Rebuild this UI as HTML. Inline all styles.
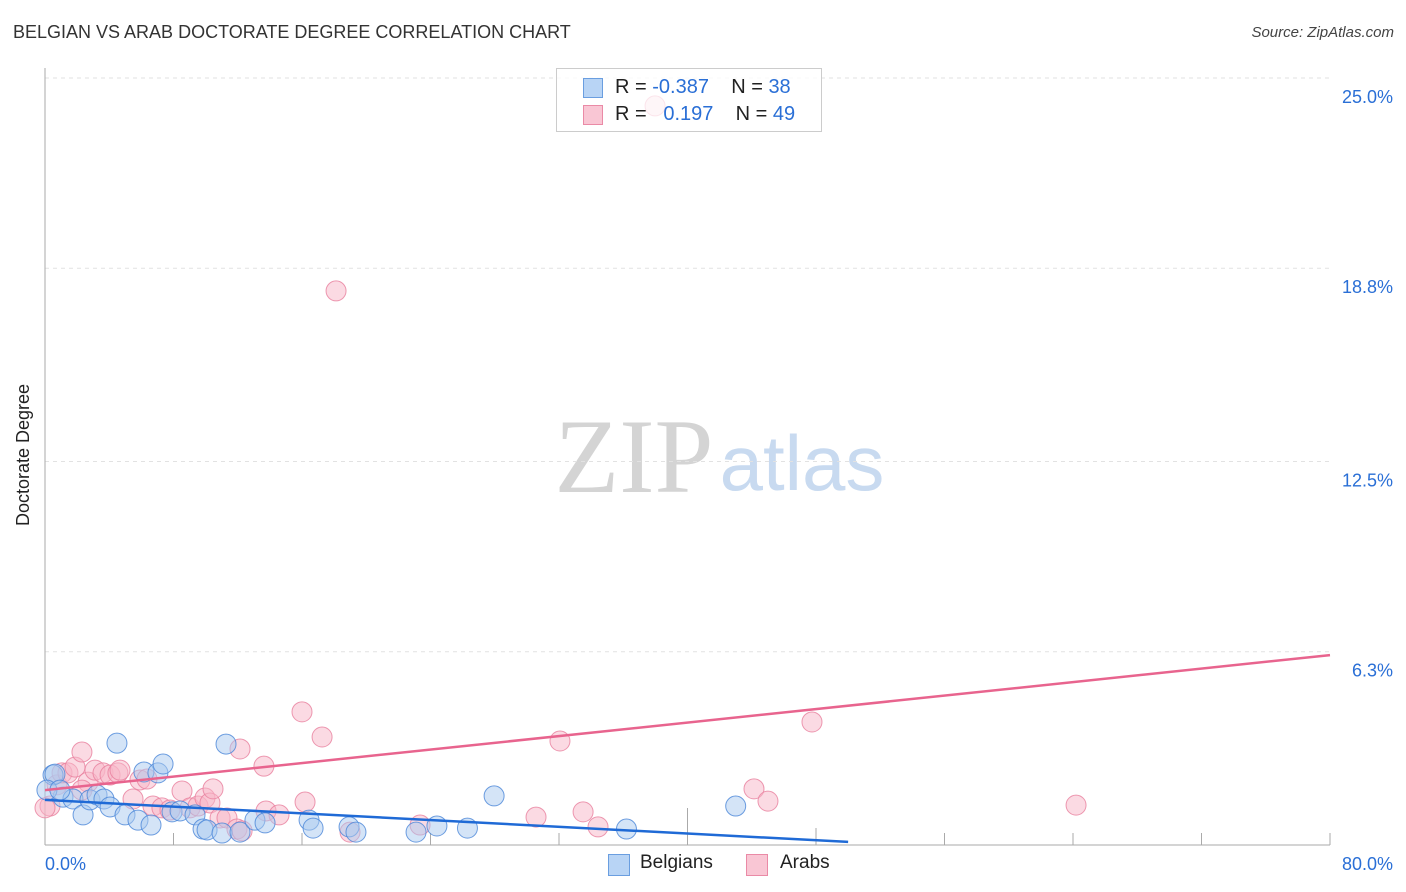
<!DOCTYPE html>
<html><head><meta charset="utf-8">
<style>
body{margin:0;background:#fff;font-family:"Liberation Sans",sans-serif;}
#wrap{position:relative;width:1406px;height:892px;overflow:hidden;}
.t{position:absolute;white-space:nowrap;}
</style></head>
<body>
<div id="wrap">
<div class="t" style="left:13px;top:22px;font-size:18px;color:#333;">BELGIAN VS ARAB DOCTORATE DEGREE CORRELATION CHART</div>
<div class="t" style="right:12px;top:24px;font-size:15px;color:#444;font-style:italic;">Source: ZipAtlas.com</div>
<svg id="svg" width="1406" height="892" style="position:absolute;left:0;top:0">
<text x="29" y="455" transform="rotate(-90 29 455)" text-anchor="middle" font-size="18" fill="#222">Doctorate Degree</text>
<text x="634" y="492" font-size="106" fill="#d4d4d4" font-family="Liberation Serif,serif" text-anchor="middle">ZIP</text>
<text x="802" y="490" font-size="78" fill="#c8daf0" text-anchor="middle">atlas</text>
</svg>
<div style="position:absolute;left:556px;top:68px;width:264px;height:62px;border:1px solid #ccc;background:rgba(255,255,255,0.75);font-size:20px;">
 <div style="position:absolute;left:26px;top:7px;">
  <span style="position:absolute;left:0;top:2px;width:18px;height:18px;background:#b8d4f5;border:1px solid #6a9ee0;"></span>
  <span class="t" style="left:32px;top:0;color:#222;">R = <span style="color:#2a6fd6">-0.387</span>&nbsp;&nbsp;&nbsp; N = <span style="color:#2a6fd6">38</span></span>
 </div>
 <div style="position:absolute;left:26px;top:34px;">
  <span style="position:absolute;left:0;top:2px;width:18px;height:18px;background:#f9c6d4;border:1px solid #ea8aa6;"></span>
  <span class="t" style="left:32px;top:0;color:#222;">R = &nbsp;&nbsp;<span style="color:#2a6fd6">0.197</span>&nbsp;&nbsp;&nbsp; N = <span style="color:#2a6fd6">49</span></span>
 </div>
</div>
<div style="position:absolute;left:608px;top:852px;font-size:19px;color:#222;">
 <span style="position:absolute;left:0;top:2px;width:20px;height:20px;background:#b8d4f5;border:1px solid #6a9ee0;"></span>
 <span class="t" style="left:32px;top:0;">Belgians</span>
 <span style="position:absolute;left:138px;top:2px;width:20px;height:20px;background:#f9c6d4;border:1px solid #ea8aa6;"></span>
 <span class="t" style="left:172px;top:0;">Arabs</span>
</div>
</div>
<script>
const yTicks=[25.0,18.8,12.5,6.3];
const yTickLabels=["25.0%","18.8%","12.5%","6.3%"];
const xLabels=["0.0%","80.0%"];
const belgX=[0.5,0.62,1.12,1.74,2.37,2.8,3.24,3.67,4.05,4.48,4.98,5.79,6.16,6.6,7.03,7.35,7.91,8.41,9.34,9.84,10.09,11.02,11.27,12.14,13.07,13.7,16.44,16.69,18.93,19.36,23.1,24.4,26.3,27.96,36.2,43.0,0.12,0.93];
const belgY=[2.28,2.31,1.56,1.5,0.98,1.47,1.63,1.5,1.24,3.32,0.98,0.81,2.38,0.65,2.35,2.64,1.08,1.11,0.98,0.52,0.49,0.39,3.29,0.42,0.81,0.72,0.81,0.55,0.59,0.42,0.42,0.62,0.55,1.6,0.52,1.27,1.79,1.79];
const arabX=[0.31,0.75,1.06,1.43,1.87,2.3,2.68,3.11,3.61,4.05,4.54,4.67,5.48,5.91,6.35,6.72,7.28,7.78,8.53,9.03,9.53,9.96,10.27,10.46,10.9,11.33,11.95,12.27,12.14,13.63,13.76,14.57,16.0,16.19,17.25,18.12,18.99,23.35,30.57,32.06,33.5,34.43,37.98,44.14,45.01,47.75,64.19,0,2.3];
const arabY=[1.27,1.96,2.35,2.35,2.54,3.03,2.05,2.44,2.35,2.28,2.35,2.44,1.5,2.12,2.15,1.27,1.21,1.14,1.76,1.21,1.27,1.53,1.37,1.83,0.88,0.88,0.52,0.46,3.13,2.57,1.11,0.98,4.34,1.4,3.52,18.06,0.42,0.65,0.91,3.39,1.08,0.59,24.09,1.83,1.43,4.01,1.3,1.21,1.79];
const belgTrend=[[0,1.47],[50,0.1]];
const arabTrend=[[0,1.79],[80,6.19]];
const NS="http://www.w3.org/2000/svg";
const svg=document.getElementById('svg');
const X0=45,X1=1330,Y0=845,Y25=78;
const sx=v=>X0+(X1-X0)*v/80;
const sy=v=>Y0-(Y0-Y25)*v/25;
function mk(t,a){const e=document.createElementNS(NS,t);for(const k in a)e.setAttribute(k,a[k]);svg.appendChild(e);return e;}
yTicks.forEach((v,i)=>{
 const g=mk('line',{x1:X0,x2:X1,y1:sy(v),y2:sy(v),stroke:'#e2e2e2','stroke-dasharray':'4,4'});
 
 
 const t=mk('text',{x:1393,y:sy(v)+25,'text-anchor':'end','font-size':18,fill:'#2a6fd6'});
 t.textContent=yTickLabels[i];
 
 
});
const ax=mk('line',{x1:X0,x2:X0,y1:68,y2:Y0,stroke:'#aaa'});


const bx=mk('line',{x1:X0,x2:X1,y1:Y0,y2:Y0,stroke:'#aaa'});


for(let i=1;i<=10;i++){
 const x=sx(i*8);
 const tk=mk('line',{x1:x,x2:x,y1:(i==5?808:i==6?828:833),y2:Y0,stroke:'#aaa'});
 
 
}
[[xLabels[0],45,'start'],[xLabels[1],1393,'end']].forEach(([s,x,a])=>{
 const t=mk('text',{x:x,y:870,'text-anchor':a,'font-size':18,fill:'#2a6fd6'});
 t.textContent=s;
 
 
});
function pts(xs,ys,fill,stroke,name){
 xs.forEach((x,i)=>{
  const c=mk('circle',{cx:sx(x),cy:sy(ys[i]),r:10,fill:fill,'fill-opacity':0.5,stroke:stroke,'stroke-opacity':0.8,'stroke-width':1});
  
  
 });
}
pts(arabX,arabY,'#f7b6c8','#e8809e','arab-point');
pts(belgX,belgY,'#a9c9f0','#4a86d8','belgian-point');
const l1=mk('line',{x1:sx(arabTrend[0][0]),y1:sy(arabTrend[0][1]),x2:sx(arabTrend[1][0]),y2:sy(arabTrend[1][1]),stroke:'#e8648e','stroke-width':2.5});


const l2=mk('line',{x1:sx(belgTrend[0][0]),y1:sy(belgTrend[0][1]),x2:sx(belgTrend[1][0]),y2:sy(belgTrend[1][1]),stroke:'#1f6ad6','stroke-width':2.5});


</script>
</body></html>
